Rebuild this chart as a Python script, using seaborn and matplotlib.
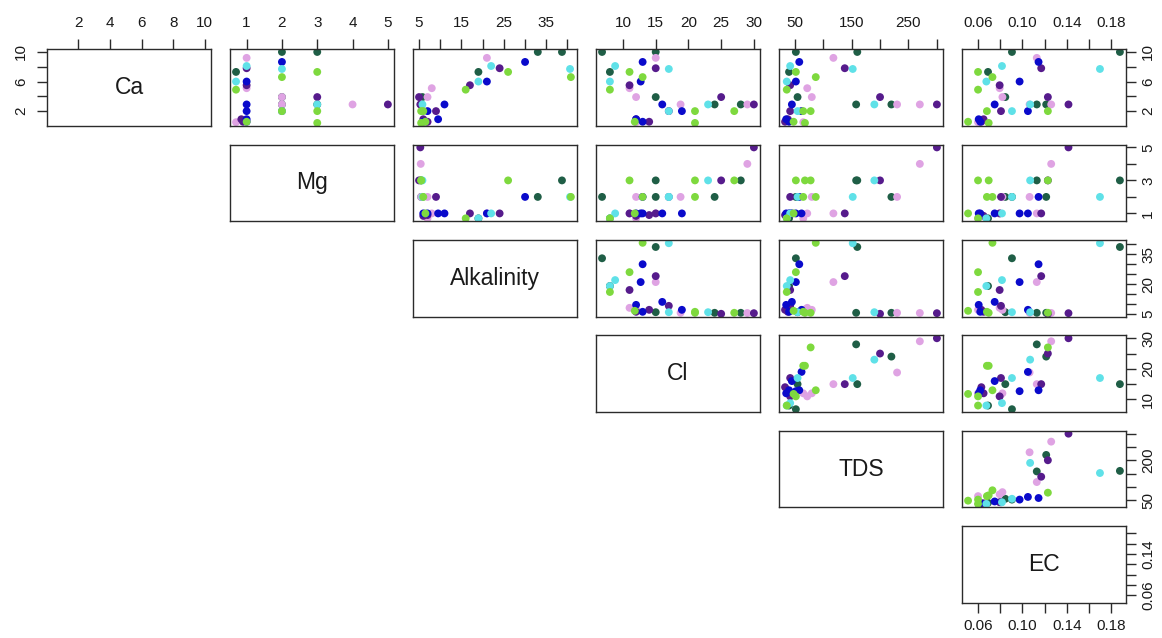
import numpy as np
import pandas as pd
import matplotlib
matplotlib.use("Agg")
import matplotlib.pyplot as plt
import seaborn as sns

sns.set_style("white")
plt.rcParams["font.family"] = ["Liberation Sans", "DejaVu Sans"]

# Water-quality measurements, one entry per sample
variables = ["Ca", "Mg", "Alkalinity", "Cl", "TDS", "EC"]

site = ["F", "F", "F", "F", "F", "F",
        "A", "A", "A", "A", "A", "A",
        "B", "B", "B", "B", "B", "B", "B",
        "C", "C", "C", "C", "C", "C",
        "D", "D", "D", "D", "D",
        "E", "E", "E", "E", "E", "E", "E"]

ca = [10.0, 10.0, 7.3, 3.9, 2.9, 2.9,
      9.2, 5.1, 3.9, 2.9, 2.9, 0.5,
      7.8, 5.5, 3.9, 2.9, 2.0, 0.56, 0.9,
      8.65, 6.0, 2.9, 2.0, 0.9, 0.56,
      8.1, 7.7, 6.0, 2.0, 2.9,
      7.3, 6.6, 4.9, 2.0, 2.0, 0.56, 0.4]

mg = [2, 3, 0.7, 2, 3, 2,
      1, 1, 2, 2, 4, 0.7,
      1, 1, 3, 5, 2, 0.9, 0.85,
      2, 1, 1, 1, 1, 1,
      1, 2, 0.7, 2, 3,
      3, 2, 0.7, 2, 3, 1, 3]

alkalinity = [33.0, 38.7, 19.0, 5.8, 5.5, 5.5,
              21.0, 8.0, 7.0, 5.5, 5.4, 7.0,
              24.0, 17.0, 5.0, 5.3, 9.0, 7.0, 6.0,
              30.0, 21.0, 11.0, 7.0, 9.5, 6.0,
              22.0, 40.6, 19.0, 5.8, 5.8,
              26.0, 40.8, 16.0, 6.0, 5.5, 6.5, 5.5]

cl = [6.8, 15.0, 8.0, 15.0, 28.0, 24.0,
      15.0, 11.0, 12.0, 18.8, 29.0, 12.0,
      15.0, 11.0, 25.0, 30.0, 17.0, 14.0, 12.0,
      13.0, 12.7, 16.0, 19.0, 12.0, 13.0,
      8.8, 17.0, 8.0, 17.0, 23.0,
      11.0, 13.0, 8.0, 21.0, 27.0, 11.8, 21.0]

tds = [52, 160, 40, 55, 158, 220,
       118, 72, 80, 230, 270, 65,
       138, 42, 200, 300, 42, 33, 38,
       58, 52, 45, 62, 35, 40,
       42, 152, 36, 55, 190,
       52, 87, 36, 65, 78, 48, 68]

ec = [0.0906, 0.188, 0.069, 0.0846, 0.113, 0.1215,
      0.113, 0.0795, 0.082, 0.1065, 0.126, 0.060,
      0.117, 0.0795, 0.123, 0.1416, 0.0807, 0.063, 0.065,
      0.1146, 0.0975, 0.075, 0.105, 0.0606, 0.062,
      0.0816, 0.170, 0.0675, 0.0906, 0.107,
      0.060, 0.073, 0.060, 0.068, 0.123, 0.051, 0.0696]

df = pd.DataFrame({"site": site, "Ca": ca, "Mg": mg, "Alkalinity": alkalinity,
                   "Cl": cl, "TDS": tds, "EC": ec})

palette = {"A": "#DFA3E3", "B": "#561B8C", "C": "#0A0ACB",
           "D": "#5FE1E8", "E": "#7ED93E", "F": "#1F5E46"}

# Axis tick positions and which of them carry a label on each side
ticks = {
    "Ca": [2, 4, 6, 8, 10],
    "Mg": [1, 2, 3, 4, 5],
    "Alkalinity": [5, 10, 15, 20, 25, 30, 35, 40],
    "Cl": [10, 15, 20, 25, 30],
    "TDS": [50, 100, 150, 200, 250, 300],
    "EC": [0.06, 0.08, 0.10, 0.12, 0.14, 0.16, 0.18],
}
top_step = {"Ca": 1, "Mg": 1, "Alkalinity": 2, "Cl": 1, "TDS": 2, "EC": 2}
side_step = {"Ca": 2, "Mg": 2, "Alkalinity": 3, "Cl": 2, "TDS": 3, "EC": 4}


def fmt(var, v):
    return f"{v:.2f}" if var == "EC" else f"{v:g}"


def labels(var, step):
    return [fmt(var, v) if k % step == 0 else "" for k, v in enumerate(ticks[var])]


def limits(var):
    lo, hi = df[var].min(), df[var].max()
    pad = 0.04 * (hi - lo)
    return lo - pad, hi + pad


frame = "#2b2b2b"
tick_kw = dict(length=7, width=1.0, color=frame, labelsize=11, labelcolor="#1a1a1a")

fig, axes = plt.subplots(6, 6, figsize=(11.62, 6.38), dpi=100)
fig.subplots_adjust(left=0.0404, right=0.969, bottom=0.055, top=0.923,
                    wspace=0.116, hspace=0.245)

n = len(variables)
for i in range(n):
    for j in range(n):
        ax = axes[i, j]
        if j < i:
            ax.set_visible(False)
            continue
        xv, yv = variables[j], variables[i]
        if i == j:
            ax.text(0.5, 0.5, xv, transform=ax.transAxes, ha="center", va="center",
                    fontsize=16.5, color="#1a1a1a")
        else:
            sns.scatterplot(data=df, x=xv, y=yv, hue="site", palette=palette,
                            s=32, linewidth=0, alpha=1.0, legend=False, ax=ax)
        ax.set_xlim(limits(xv))
        ax.set_ylim(limits(yv))
        ax.set_xlabel("")
        ax.set_ylabel("")
        for sp in ax.spines.values():
            sp.set_color(frame)
            sp.set_linewidth(1.0)
        ax.tick_params(axis="both", which="both", top=False, bottom=False,
                       left=False, right=False, labeltop=False, labelbottom=False,
                       labelleft=False, labelright=False)
        ax.set_xticks([])
        ax.set_yticks([])

        if i == 0:
            ax.set_xticks(ticks[xv], labels(xv, top_step[xv]))
            ax.tick_params(axis="x", direction="out", top=True, labeltop=True,
                           pad=6.5, **tick_kw)
        if i == n - 1 and j == n - 1:
            ax.set_xticks(ticks[xv], labels(xv, top_step[xv]))
            ax.tick_params(axis="x", direction="out", bottom=True, labelbottom=True,
                           pad=4.5, **tick_kw)
        if j == n - 1:
            ax.set_yticks(ticks[yv], labels(yv, side_step[yv]))
            ax.tick_params(axis="y", direction="out", right=True, labelright=True,
                           pad=4, labelrotation=90, **tick_kw)
            for t in ax.get_yticklabels():
                t.set_va("center")
        if i == 0 and j == 0:
            ax.set_yticks(ticks[yv], labels(yv, side_step[yv]))
            ax.tick_params(axis="y", direction="out", left=True, labelleft=True,
                           pad=6.5, labelrotation=90, **tick_kw)
            for t in ax.get_yticklabels():
                t.set_va("center")

fig.savefig("out.png", dpi=100, facecolor="white")
